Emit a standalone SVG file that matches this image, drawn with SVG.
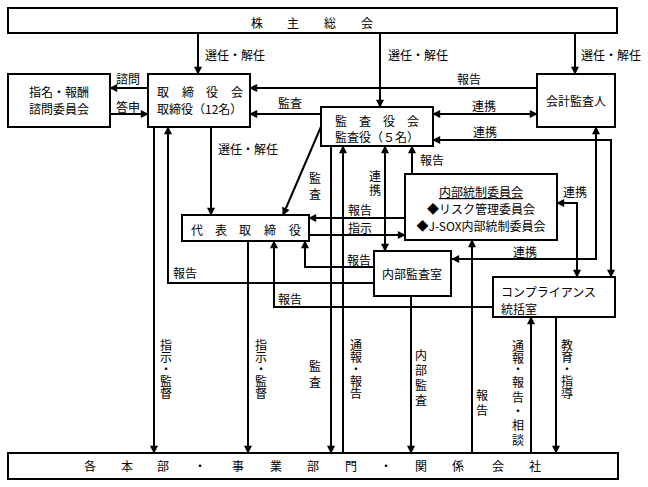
<svg xmlns="http://www.w3.org/2000/svg" width="648" height="487" viewBox="0 0 648 487">
<style>
rect.box{fill:#fff;stroke:#000;stroke-width:2}
text{font-family:"Noto Sans CJK JP","Noto Sans",sans-serif;font-size:12px;fill:#000}
.c{text-anchor:middle}
.ln{fill:none;stroke:#000;stroke-width:2}
.a{marker-end:url(#ah)}
.d{marker-start:url(#ah);marker-end:url(#ah)}
</style>
<defs>
<marker id="ah" viewBox="0 0 10 10" refX="9" refY="5" markerWidth="9" markerHeight="8" markerUnits="userSpaceOnUse" orient="auto-start-reverse">
<path d="M0,0 L10,5 L0,10 z" fill="#000"/>
</marker>
</defs>
<rect width="648" height="487" fill="#fff"/>

<g id="connectors">
<line class="ln a" x1="198" y1="33" x2="198" y2="74"/>
<line class="ln a" x1="380" y1="33" x2="380" y2="107"/>
<line class="ln a" x1="575" y1="33" x2="575" y2="74"/>
<line class="ln a" x1="148" y1="88" x2="110" y2="88"/>
<line class="ln a" x1="110" y1="114" x2="148" y2="114"/>
<line class="ln a" x1="537" y1="88" x2="250" y2="88"/>
<line class="ln a" x1="321" y1="114" x2="250" y2="114"/>
<line class="ln d" x1="433" y1="114" x2="537" y2="114"/>
<polyline class="ln d" points="433,140 611,140 611,277"/>
<line class="ln a" x1="211" y1="127" x2="211" y2="215"/>
<line class="ln a" x1="323" y1="122" x2="283" y2="215"/>
<line class="ln a" x1="405" y1="218" x2="309" y2="218"/>
<line class="ln a" x1="309" y1="235" x2="405" y2="235"/>
<polyline class="ln a" points="374,267 305,267 305,241"/>
<polyline class="ln a" points="374,283 168,283 168,127"/>
<polyline class="ln a" points="493,307 274,307 274,241"/>
<line class="ln a" x1="331" y1="146" x2="331" y2="453"/>
<line class="ln a" x1="343" y1="453" x2="343" y2="146"/>
<line class="ln d" x1="385" y1="146" x2="385" y2="251"/>
<line class="ln a" x1="412" y1="174" x2="412" y2="146"/>
<polyline class="ln d" points="596,127 596,259 452,259"/>
<polyline class="ln d" points="557,203 577,203 577,277"/>
<line class="ln a" x1="154" y1="127" x2="154" y2="453"/>
<line class="ln a" x1="248" y1="241" x2="248" y2="453"/>
<line class="ln a" x1="411" y1="296" x2="411" y2="453"/>
<line class="ln a" x1="472" y1="453" x2="472" y2="240"/>
<line class="ln a" x1="531" y1="453" x2="531" y2="317"/>
<line class="ln a" x1="556" y1="317" x2="556" y2="453"/>

<text x="205" y="59.5">選任・解任</text>
<text x="388" y="59.5">選任・解任</text>
<text x="581" y="59.5">選任・解任</text>
<text x="116" y="83.5">諮問</text>
<text x="116" y="111.5">答申</text>
<text x="457" y="83.5">報告</text>
<text x="278" y="107.5">監査</text>
<text x="472" y="110.5">連携</text>
<text x="473" y="136.5">連携</text>
<text x="218" y="153.5">選任・解任</text>
<text class="c" x="315 315" y="182.5 198.5">監査</text>
<text class="c" x="375 375" y="181 194.5">連携</text>
<text x="420" y="164.5">報告</text>
<text x="563" y="197">連携</text>
<text x="348" y="214.5">報告</text>
<text x="348" y="232.5">指示</text>
<text x="347" y="264.5">報告</text>
<text x="513" y="256.5">連携</text>
<text x="173" y="277.5">報告</text>
<text x="278" y="304">報告</text>
<text class="c" x="166 166 166 166 166" y="349.5 361.5 373.5 385.5 397.5">指示・監督</text>
<text class="c" x="261 261 261 261 261" y="349.5 361.5 373.5 385.5 397.5">指示・監督</text>
<text class="c" x="315 315" y="370.5 386.5">監査</text>
<text class="c" x="356 356 356 356 356" y="349.5 361.5 373.5 385.5 397.5">通報・報告</text>
<text class="c" x="421 421 421 421" y="359.5 374.5 389.5 404.5">内部監査</text>
<text class="c" x="482 482" y="399.5 414.5">報告</text>
<text class="c" x="518 518 518 518 518 518 518 518" y="350.5 362.5 374 387 401.5 415.5 429.5 444.5">通報・報告・相談</text>
<text class="c" x="567 567 567 567 567" y="349.5 361.5 373.5 385.5 397.5">教育・指導</text>
</g>

<g id="shareholders">
<rect class="box" x="8" y="8" width="609" height="25"/>
<text class="c" x="257 293 330 367" y="27.5">株主総会</text>
</g>

<g id="nomination">
<rect class="box" x="8" y="74" width="102" height="53"/>
<text class="c" x="59" y="97">指名・報酬</text>
<text class="c" x="59" y="114">諮問委員会</text>
</g>

<g id="board">
<rect class="box" x="148" y="74" width="102" height="53"/>
<text class="c" x="163 188 212 237" y="97">取締役会</text>
<text x="157" y="114">取締役（12名）</text>
</g>

<g id="accountant">
<rect class="box" x="537" y="74" width="78" height="53"/>
<text class="c" x="576" y="105.5">会計監査人</text>
</g>

<g id="audit-board">
<rect class="box" x="321" y="107" width="112" height="39"/>
<text class="c" x="341 365 389 413" y="125.5">監査役会</text>
<text x="335" y="142">監査役（５名）</text>
</g>

<g id="internal-control">
<rect class="box" x="405" y="174" width="152" height="66"/>
<text class="c" x="481" y="197" text-decoration="underline">内部統制委員会</text>
<text class="c" x="481" y="214">◆リスク管理委員会</text>
<text class="c" x="481" y="231">◆J-SOX内部統制委員会</text>
</g>

<g id="representative">
<rect class="box" x="182" y="215" width="127" height="26"/>
<text class="c" x="197 221 245 270 295" y="234.5">代表取締役</text>
</g>

<g id="internal-audit">
<rect class="box" x="374" y="251" width="77" height="45"/>
<text class="c" x="412" y="278.5">内部監査室</text>
</g>

<g id="compliance">
<rect class="box" x="493" y="277" width="122" height="40"/>
<text x="501" y="297">コンプライアンス</text>
<text x="501" y="313.5">統括室</text>
</g>

<g id="divisions">
<rect class="box" x="8" y="453" width="610" height="26"/>
<text class="c" x="90 127 163 200 238 276 313 351 386 421 458 498 535" y="470.5">各本部・事業部門・関係会社</text>
</g>
</svg>
